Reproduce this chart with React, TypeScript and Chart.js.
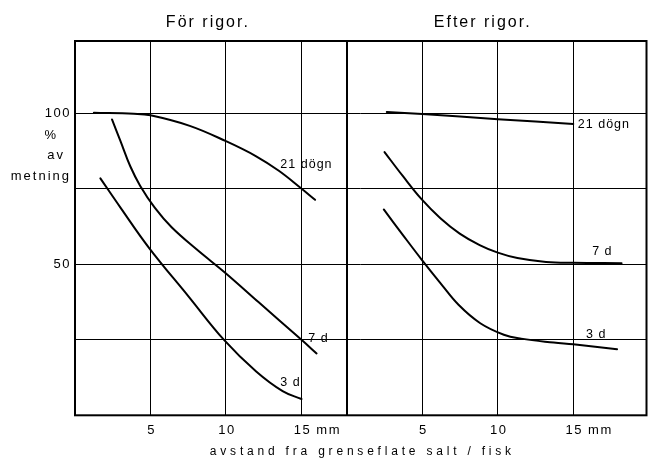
import React, { useEffect, useRef } from "react";
import { Chart, registerables } from "chart.js";

Chart.register(...registerables);

// ---- text ----
const PANEL_TITLES = ["För rigor.", "Efter rigor."];
const PANEL_TITLE_X = [8.8, 27.0]; // data units (mm on the shared axis)
const Y_LABEL_LINES = ["%", "av", "metning"];
const Y_LABEL_VALUES = [92.6, 86, 79];
const Y_LABEL_RIGHT = [17, 10, 4]; // px left of the plot edge
const X_AXIS_TITLE = "avstand fra grenseflate salt / fisk";
const X_AXIS_TITLE_X = 18.9;

// ---- axes ----
const PANEL_WIDTH = 18; // left panel spans 0..18 mm; right panel starts here
const X_MAX = 37.85;
const Y_MAX = 124;
const X_TICK_VALUES = [5, 10, 15];
const X_TICK_LABELS = ["5", "10", "15 mm"];
const Y_GRID_VALUES = [25, 50, 75, 100];
const Y_TICK_VALUES = [100, 50];

// ---- series: før rigor ----
const before21X = [1.25, 3.9, 5.0, 7.6, 10, 12, 13.5, 14.95, 15.9];
const before21Y = [100.2, 99.9, 99.4, 95.9, 90.8, 85.8, 81, 75.3, 71.4];
const before7X = [2.45, 3.0, 3.66, 4.32, 5.28, 6.4, 8.05, 10, 12.15, 15, 16];
const before7Y = [98, 91, 82.5, 76, 68.8, 62.3, 55, 47, 37.5, 25, 20.5];
const before3X = [1.68, 3.0, 4.9, 7.5, 9.9, 12, 13.75, 15];
const before3Y = [78.5, 68.9, 55.5, 39.5, 24.8, 14.5, 8, 5.4];

// ---- series: efter rigor ----
const after21X = [2.65, 5, 10, 15];
const after21Y = [100.5, 99.8, 98.1, 96.5];
const after7X = [2.5, 3.72, 4.95, 6.2, 7.48, 8.8, 10, 11.3, 13.2, 15, 18.2];
const after7Y = [87.2, 79.2, 71.6, 65.3, 60.2, 56.4, 53.9, 52.1, 50.8, 50.5, 50.4];
const after3X = [2.45, 3.72, 4.97, 6.2, 7.4, 8.84, 10.4, 11.55, 13.7, 15, 17.9];
const after3Y = [68.2, 59.7, 51.5, 43.8, 36.6, 30.5, 26.7, 25.4, 24.1, 23.5, 21.9];

// ---- curve labels ----
const CURVE_LABELS = ["21 dögn", "7 d", "3 d", "21 dögn", "7 d", "3 d"];
const CURVE_LABEL_X = [13.6, 15.45, 13.6, 33.3, 34.25, 33.85];
const CURVE_LABEL_Y = [83, 25.5, 10.8, 96.2, 54.3, 26.9];

const INK = "#000000";
const FONT = "'Liberation Sans', Arial, sans-serif";

const SERIES = [
  { xs: before21X, ys: before21Y, offset: 0 },
  { xs: before7X, ys: before7Y, offset: 0 },
  { xs: before3X, ys: before3Y, offset: 0 },
  { xs: after21X, ys: after21Y, offset: PANEL_WIDTH },
  { xs: after7X, ys: after7Y, offset: PANEL_WIDTH },
  { xs: after3X, ys: after3Y, offset: PANEL_WIDTH },
];

const annotate = {
  id: "annotate",
  afterDraw(chart: any) {
    const { ctx, chartArea: a, scales } = chart;
    const xs = scales.x;
    const ys = scales.y;
    ctx.save();
    ctx.strokeStyle = INK;
    ctx.lineWidth = 2;
    ctx.strokeRect(a.left, a.top, a.right - a.left, a.bottom - a.top);

    ctx.fillStyle = INK;
    ctx.textBaseline = "middle";

    // panel titles
    ctx.font = `16px ${FONT}`;
    (ctx as any).letterSpacing = "2px";
    ctx.textAlign = "center";
    PANEL_TITLES.forEach((t, i) =>
      ctx.fillText(t, xs.getPixelForValue(PANEL_TITLE_X[i]), a.top - 18)
    );

    // y tick labels
    ctx.font = `13px ${FONT}`;
    (ctx as any).letterSpacing = "1.5px";
    ctx.textAlign = "right";
    Y_TICK_VALUES.forEach((v) =>
      ctx.fillText(String(v), a.left - 4, ys.getPixelForValue(v))
    );

    // y axis label (three lines)
    ctx.font = `13px ${FONT}`;
    (ctx as any).letterSpacing = "2px";
    ctx.textAlign = "right";
    Y_LABEL_LINES.forEach((t, i) =>
      ctx.fillText(t, a.left - Y_LABEL_RIGHT[i], ys.getPixelForValue(Y_LABEL_VALUES[i]))
    );

    // x tick labels (both panels), number centred on its grid line
    ctx.font = `13px ${FONT}`;
    (ctx as any).letterSpacing = "1.5px";
    ctx.textAlign = "left";
    [0, PANEL_WIDTH].forEach((off) => {
      X_TICK_VALUES.forEach((v, i) => {
        const wNum = ctx.measureText(String(v)).width;
        ctx.fillText(X_TICK_LABELS[i], xs.getPixelForValue(v + off) - wNum / 2 + 1, a.bottom + 15);
      });
    });

    // x axis title
    ctx.font = `12px ${FONT}`;
    (ctx as any).letterSpacing = "3.8px";
    ctx.textAlign = "center";
    ctx.fillText(X_AXIS_TITLE, xs.getPixelForValue(X_AXIS_TITLE_X) + 2, a.bottom + 36);

    // curve labels
    ctx.font = `12.5px ${FONT}`;
    (ctx as any).letterSpacing = "1px";
    ctx.textAlign = "left";
    CURVE_LABELS.forEach((t, i) =>
      ctx.fillText(t, xs.getPixelForValue(CURVE_LABEL_X[i]), ys.getPixelForValue(CURVE_LABEL_Y[i]))
    );
    ctx.restore();
  },
};

export default function App() {
  const ref = useRef<HTMLCanvasElement | null>(null);

  useEffect(() => {
    if (!ref.current) return;
    const chart = new Chart(ref.current, {
      type: "line",
      data: {
        datasets: SERIES.map((s) => ({
          data: s.xs.map((x, i) => ({ x: x + s.offset, y: s.ys[i] })),
          borderColor: INK,
          borderWidth: 2,
          pointRadius: 0,
          fill: false,
          tension: 0.4,
          borderCapStyle: "round" as const,
          borderJoinStyle: "round" as const,
        })),
      },
      options: {
        animation: false,
        responsive: false,
        devicePixelRatio: 1,
        layout: { padding: { left: 75, right: 1.5, top: 41, bottom: 43.7 } },
        plugins: { legend: { display: false }, tooltip: { enabled: false } },
        scales: {
          x: {
            type: "linear",
            min: 0,
            max: X_MAX,
            afterBuildTicks: (scale: any) => {
              scale.ticks = [
                ...X_TICK_VALUES,
                PANEL_WIDTH,
                ...X_TICK_VALUES.map((v) => v + PANEL_WIDTH),
              ].map((value) => ({ value }));
            },
            afterFit: (scale: any) => {
              scale.height = 0;
            },
            ticks: { display: false },
            border: { display: false },
            grid: {
              drawTicks: false,
              color: INK,
              lineWidth: (c: any) => (c.tick && c.tick.value === PANEL_WIDTH ? 2 : 1),
            },
          },
          y: {
            type: "linear",
            min: 0,
            max: Y_MAX,
            afterBuildTicks: (scale: any) => {
              scale.ticks = Y_GRID_VALUES.map((value) => ({ value }));
            },
            afterFit: (scale: any) => {
              scale.width = 0;
            },
            ticks: { display: false },
            border: { display: false },
            grid: { drawTicks: false, color: INK, lineWidth: 1 },
          },
        },
      },
      plugins: [annotate],
    });
    return () => chart.destroy();
  }, []);

  return (
    <div style={{ position: "absolute", left: 0, top: 0, width: 648, height: 459, background: "#fff" }}>
      <canvas ref={ref} width={648} height={459} />
    </div>
  );
}
